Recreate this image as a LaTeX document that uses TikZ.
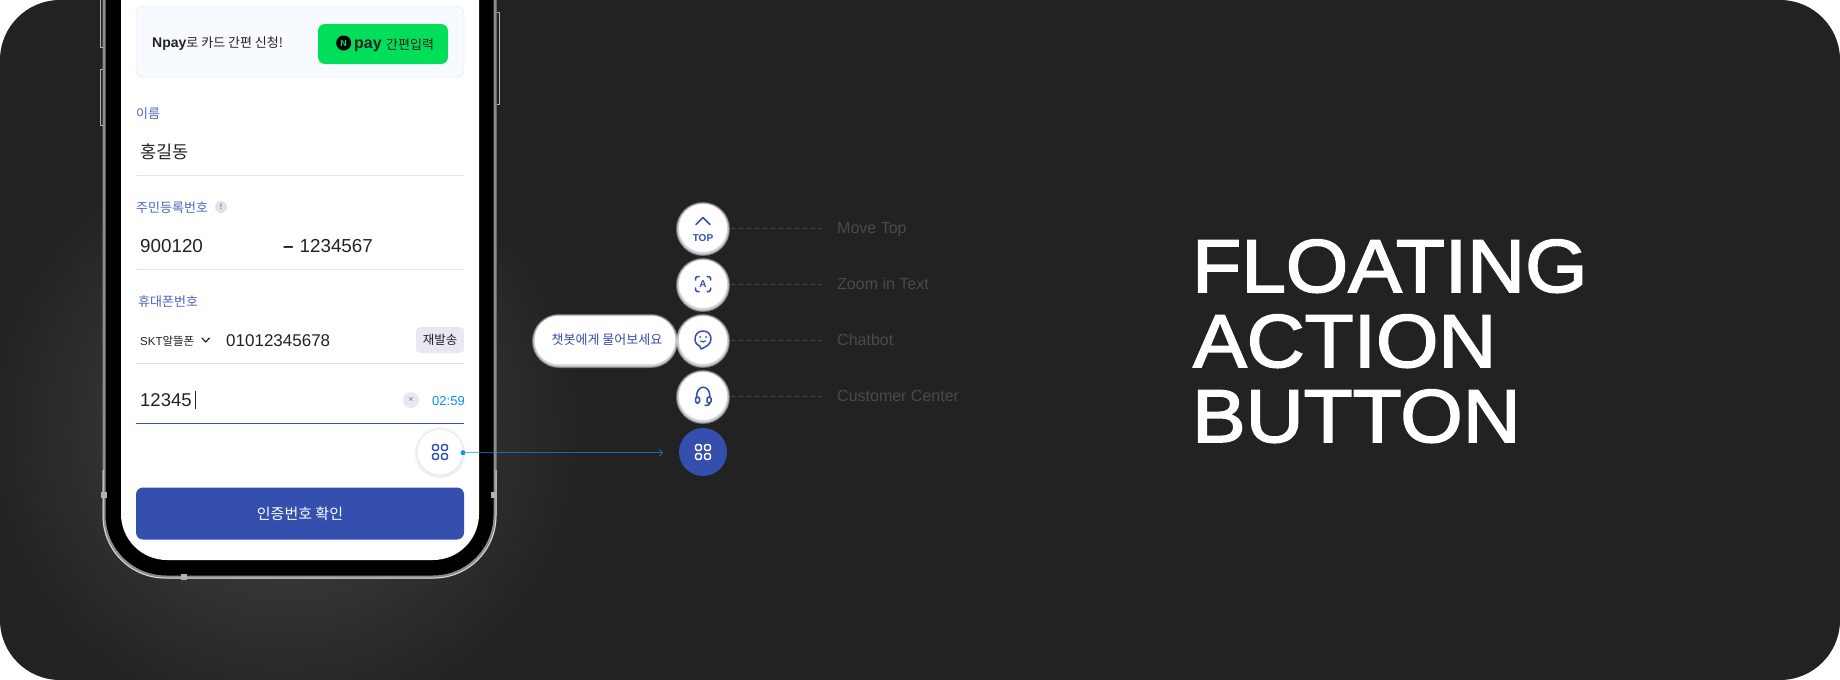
\documentclass[tikz,border=0pt]{standalone}
\usepackage{fontspec}
\setmainfont{Liberation Sans}
\newfontfamily\krfont{Noto Sans CJK KR}
\newfontfamily\titlefont[FakeStretch=1.07,FakeBold=2.2]{Liberation Sans}
\usetikzlibrary{arrows.meta,positioning}
\definecolor{bgdark}{HTML}{222222}
\definecolor{bgglow}{HTML}{484848}
\definecolor{navy}{HTML}{344FAE}
\definecolor{fieldblue}{HTML}{4C66C4}
\definecolor{ink}{HTML}{222222}
\definecolor{rule}{HTML}{DEE2EC}
\definecolor{pale}{HTML}{E6E9F1}
\definecolor{cardfill}{HTML}{F7FAFF}
\definecolor{npay}{HTML}{00DE5A}
\definecolor{skyblue}{HTML}{0A8FFB}
\definecolor{dimtext}{HTML}{4A4A4A}
\definecolor{steel}{HTML}{8C8C8C}
\definecolor{glowc}{HTML}{F2F3FA}
\newcommand{\gridicon}[3]{\foreach \i in {-4.5,4.5}\foreach \j in {-4.5,4.5}
  \draw[#3,line width=1.5pt,rounded corners=1.2pt] (#1+\i-2.8,#2+\j-2.8) rectangle (#1+\i+2.8,#2+\j+2.8);}
\begin{document}
\begin{tikzpicture}[x=1pt,y=-1pt,>=Stealth,
  t/.style={inner sep=0,anchor=base west},
  fab/.style={circle,fill=white,inner sep=0,minimum size=48pt},
  lbl/.style={inner sep=0,anchor=west,text=dimtext,text height=14pt,text depth=3pt,font=\fontsize{16}{18}\selectfont},
  dashln/.style={draw=dimtext,line width=.8pt,dash pattern=on 4pt off 4pt,shorten <=4pt,shorten >=15pt},
  ctitle/.style={inner sep=0,anchor=base west,text=white,font=\titlefont\fontsize{75}{75}\selectfont}]
\useasboundingbox (0,0) rectangle (1840,680);
\fill[white] (0,0) rectangle (1840,680);
\begin{scope}
\clip[rounded corners=60pt] (0,0) rectangle (1840,680);
\fill[bgdark] (0,0) rectangle (1840,680);
\shade[inner color=bgglow,outer color=bgdark] (285,430) circle (300pt);
% phone
\draw[steel,line width=3pt,fill=black,rounded corners=62pt] (104,-120) rectangle (495,577);
\draw[white!85!black,line width=1pt,rounded corners=62pt] (103,470) -- (103,578) -- (496,578) -- (496,470);
\fill[white,rounded corners=46pt] (121,-120) rectangle (479,560);
\draw[white!70!black,line width=1pt] (100,0) -- (100,47) -- (103,47) (103,69) -- (100,69) -- (100,125) -- (103,125);
\draw[white!70!black,line width=1pt] (497,12) -- (499,12) -- (499,104) -- (497,104);
\foreach \x/\y in {104/495,494/495,184/577} \fill[white!70!black] (\x-3,\y-3) rectangle (\x+3,\y+3);
\end{scope}
% card on top
\node[draw=rule,fill=cardfill,rounded corners=8pt,minimum width=328pt,minimum height=71pt,inner sep=0] (card) at (300,41.5) {};
\node[fill=npay,rounded corners=7pt,minimum width=130pt,minimum height=40pt,inner sep=0] (paybtn) at (383,44) {};
\node[t,text=ink,font=\fontsize{14}{16}\selectfont] (paytxt) at (152,47) {\textbf{Npay}{\krfont\fontsize{13}{16}\selectfont 로 카드 간편 신청!}};
\node[circle,fill=black,text=npay,inner sep=0,minimum size=15pt,font=\bfseries\fontsize{9}{9}\selectfont] (payn) at (343.7,43) {N};
\node[t,text=ink,font=\bfseries\fontsize{16}{18}\selectfont] (paylogo) at (354,48) {pay};
\node[t,text=ink,font=\krfont\fontsize{13}{16}\selectfont] (paykr) at (386,49) {간편입력};
% fields
\node[t,text=fieldblue,font=\krfont\fontsize{13}{16}\selectfont] (fname) at (136,118) {이름};
\node[t,text=ink,font=\krfont\fontsize{17.5}{20}\selectfont] (vname) at (140,158) {홍길동};
\node[t,text=fieldblue,font=\krfont\fontsize{13}{16}\selectfont] (fid) at (136,212) {주민등록번호};
\node[circle,fill=rule,text=black!50,inner sep=0,minimum size=12pt,font=\bfseries\fontsize{8}{8}\selectfont] (finfo) at (221,207) {!};
\node[t,text=ink,font=\fontsize{18.8}{20}\selectfont] (vid) at (140,252.5) {900120};
\node[t,text=ink,font=\fontsize{18.8}{20}\selectfont] (vid2) at (283,252.5) {\textbf{–}\hspace{6pt}1234567};
\node[t,text=fieldblue,font=\krfont\fontsize{13}{16}\selectfont] (fphone) at (138,306) {휴대폰번호};
\node[t,text=ink,font=\fontsize{11.5}{16}\selectfont] (vcarrier) at (140,345) {SKT{\krfont 알뜰폰}};
\node[t,text=ink,font=\fontsize{17}{20}\selectfont] (vphone) at (226,346.5) {01012345678};
\node[fill=pale,rounded corners=4pt,text=ink,inner sep=0,minimum width=48pt,minimum height=26pt,font=\krfont\fontsize{12.5}{14}\selectfont] (resend) at (440,340) {재발송};
\node[t,text=ink,font=\fontsize{18.5}{20}\selectfont] (vcode) at (140,406.5) {12345};
\node[circle,fill=pale,text=black!55,inner sep=0,minimum size=16pt,font=\fontsize{9}{9}\selectfont] (clr) at (411,400) {×};
\node[t,text=skyblue,font=\fontsize{13}{16}\selectfont] (timer) at (432,405) {02:59};
\draw[rule,line width=1pt] (136,175.5) -- (464,175.5) (136,269.5) -- (464,269.5) (136,363.5) -- (464,363.5);
\draw[navy,line width=1.4pt] (136,423.5) -- (464,423.5);
\draw[ink,line width=.8pt] (195.5,391) -- (195.5,409);
\draw[ink,line width=1.2pt,line cap=round,line join=round] (202,338) -- (205.7,342) -- (209.5,338);
\node[fill=navy,rounded corners=7pt,text=white,inner sep=0,minimum width=328pt,minimum height=52pt,font=\krfont\fontsize{15}{18}\selectfont] (confirm) at (300,513.5) {인증번호 확인};
% small fab in the phone
\foreach \w in {1,2.5,4,5.5} \draw[navy!25!white,opacity=.12,line width=\w pt] (440,453) circle (23pt);
\node[fab,minimum size=46pt,draw=pale,line width=.7pt] (fabsmall) at (440,452) {};
\gridicon{440}{452}{navy}
% fab column
\node[fab] (btop) at (703,228) {};
\node[fab] (bzoom) at (703,284) {};
\node[fab] (bchat) at (703,340) {};
\node[fab] (bcall) at (703,396) {};
\node[fab,fill=navy] (bmenu) at (703,452) {};
\node[fill=white,rounded corners=24pt,text=navy,inner sep=0,minimum width=140pt,minimum height=48pt] (pill) at (605,340) {};
\foreach \n in {btop,bzoom,bchat,bcall} {
  \foreach \w in {1,2,...,6} \draw[glowc,opacity=.3,line width=\w pt] (\n) ++(0,1) circle (24pt);
  \fill[white] (\n) circle (24pt);
}
\foreach \w in {1,2,...,6} \draw[glowc,opacity=.3,line width=\w pt,rounded corners=24pt] (535,317) rectangle (675,365);
\fill[white,rounded corners=24pt] (pill.north west) rectangle (pill.south east);
\node[text=navy,inner sep=0,font=\krfont\fontsize{13}{16}\selectfont] (tpill) at (607,340) {챗봇에게 물어보세요};
\draw[navy,line width=1.5pt,line cap=round,line join=round] (696,224.5) -- (703,217.5) -- (710,224.5);
\node[text=navy,inner sep=0,font=\bfseries\fontsize{10}{10}\selectfont] (ttop) at (703,238) {TOP};
\draw[navy,line width=1.5pt,line cap=round,rounded corners=1.5pt] (695.5,280) -- (695.5,276.5) -- (699,276.5) (707,276.5) -- (710.5,276.5) -- (710.5,280) (710.5,288) -- (710.5,291.5) -- (707,291.5) (699,291.5) -- (695.5,291.5) -- (695.5,288);
\node[text=navy,inner sep=0,font=\bfseries\fontsize{10}{10}\selectfont] (tzoom) at (703,284) {A};
\draw[navy,line width=1.5pt,line join=round] (703,331) .. controls (708,331) and (711,334.5) .. (711,339) .. controls (711,344) and (706,347) .. (701,349) -- (700,346.5) .. controls (697,345.5) and (695,342.5) .. (695,339) .. controls (695,334.5) and (698,331) .. (703,331) -- cycle;
\fill[navy] (700,337) circle (1pt) (706,337) circle (1pt);
\draw[navy,line width=1.2pt,line cap=round] (700.5,341) .. controls (702,342.2) and (704,342.2) .. (705.5,341);
\draw[navy,line width=1.5pt,line cap=round] (696.5,397) .. controls (696.5,384) and (710,384) .. (710,397);
\draw[navy,line width=1.5pt,rounded corners=1.5pt] (695.5,397) rectangle (699.5,403) (707,397) rectangle (711,403);
\draw[navy,line width=1.5pt,line cap=round] (710,403) .. controls (710,405) and (708,405.5) .. (705,405.5);
\gridicon{703}{452}{white}
% labels
\node[lbl] (ltop) at (837,228) {Move Top};
\node[lbl] (lzoom) at (837,284) {Zoom in Text};
\node[lbl] (lchat) at (837,340) {Chatbot};
\node[lbl] (lcall) at (837,396) {Customer Center};
\draw[dashln] (btop) -- (ltop);
\draw[dashln] (bzoom) -- (lzoom);
\draw[dashln] (bchat) -- (lchat);
\draw[dashln] (bcall) -- (lcall);
% link between the two menus
\node[circle,fill=skyblue,inner sep=0,minimum size=5pt] (dot) at (463,452.7) {};
\coordinate (tip) at (663,452.7);
\draw[->,>={Straight Barb[length=3pt,width=7pt]},draw=skyblue,draw opacity=.65,line width=1pt] (dot) -- (tip);
% title
\node[ctitle] (l1) at (1192,292) {FLOATING};
\node[ctitle] (l2) at (1193,367) {ACTION};
\node[ctitle] (l3) at (1192,442) {BUTTON};
\end{tikzpicture}
\end{document}
